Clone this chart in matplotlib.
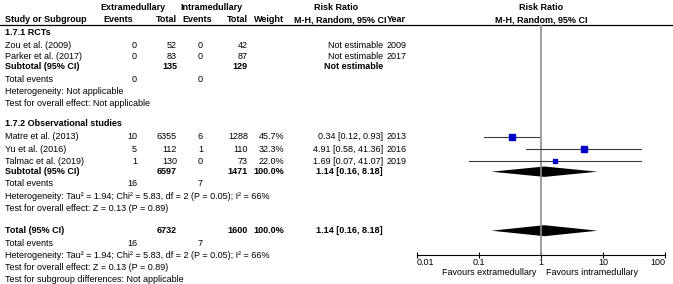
import matplotlib
matplotlib.use("Agg")
import matplotlib.pyplot as plt
from matplotlib.ticker import FixedLocator, NullLocator

plt.rcParams['font.family'] = ['Liberation Sans', 'DejaVu Sans']
FS = 6.5

# --- donnees ---
rct_names = ["Zou et al. (2009)", "Parker et al. (2017)"]
rct_ev_e = [0, 0]
rct_tot_e = [52, 83]
rct_ev_i = [0, 0]
rct_tot_i = [42, 87]
rct_year = [2009, 2017]

obs_names = ["Matre et al. (2013)", "Yu et al. (2016)", "Talmac et al. (2019)"]
obs_ev_e = [10, 5, 1]
obs_tot_e = [6355, 112, 130]
obs_ev_i = [6, 1, 0]
obs_tot_i = [1288, 110, 73]
obs_weight = [45.7, 32.3, 22.0]
obs_rr = [0.34, 4.91, 1.69]
obs_lo = [0.12, 0.58, 0.07]
obs_hi = [0.93, 41.36, 41.07]
obs_year = [2013, 2016, 2019]

sub_rr, sub_lo, sub_hi = 1.14, 0.16, 8.18
tot_rr, tot_lo, tot_hi = 1.14, 0.16, 8.18
xticks = [0.01, 0.1, 1, 10, 100]
xtick_labels = ["0.01", "0.1", "1", "10", "100"]

W, H = 673, 284
fig = plt.figure(figsize=(W / 100, H / 100), dpi=100)

# axe texte en coordonnees pixels
at = fig.add_axes([0, 0, 1, 1])
at.set_xlim(0, W)
at.set_ylim(H, 0)
at.axis('off')

# axe du forest plot (echelle log)
x0, x1 = 416.7, 665.0
ax = fig.add_axes([x0 / W, 0, (x1 - x0) / W, 1])
ax.set_xscale('log')
ax.set_xlim(0.01, 100)
ax.set_ylim(H, 0)
ax.patch.set_alpha(0)
for s in ['left', 'right', 'top']:
    ax.spines[s].set_visible(False)
ax.spines['bottom'].set_position(('data', 255))
ax.spines['bottom'].set_linewidth(0.8)
ax.yaxis.set_visible(False)
ax.xaxis.set_major_locator(FixedLocator(xticks))
ax.xaxis.set_minor_locator(NullLocator())
ax.set_xticklabels(xtick_labels, fontsize=FS)
ax.tick_params(axis='x', direction='inout', length=5, width=0.8, pad=0)
labs = ax.get_xticklabels()
labs[0].set_ha('left')
labs[-1].set_ha('right')

# colonnes
cx_name = 5
cx_ev_e, cx_tot_e = 137, 177
cx_ev_i, cx_tot_i = 203, 248
cx_w, cx_rr, cx_year = 284, 383, 387


def txt(x, y, s, ha='left', bold=False):
    at.text(x, y, s, ha=ha, va='center', fontsize=FS,
            fontweight='bold' if bold else 'normal')


# --- en-tetes ---
txt(133, 7, "Extramedullary", ha='center', bold=True)
txt(211, 7, "Intramedullary", ha='center', bold=True)
txt(336, 7, "Risk Ratio", ha='center', bold=True)
txt(541, 7, "Risk Ratio", ha='center', bold=True)
y = 19.5
txt(cx_name, y, "Study or Subgroup", bold=True)
txt(118, y, "Events", ha='center', bold=True)
txt(cx_tot_e, y, "Total", ha='right', bold=True)
txt(197, y, "Events", ha='center', bold=True)
txt(cx_tot_i, y, "Total", ha='right', bold=True)
txt(cx_w, y, "Weight", ha='right', bold=True)
txt(340, y, "M-H, Random, 95% CI", ha='center', bold=True)
txt(cx_year, y, "Year", bold=True)
txt(541, y, "M-H, Random, 95% CI", ha='center', bold=True)
at.plot([0, W], [24.5, 24.5], color='black', lw=0.9)

ax.vlines(1, 24.5, 256, color='#8c8c8c', lw=1.2)

# --- 1.7.1 RCTs ---
txt(cx_name, 32.5, "1.7.1 RCTs", bold=True)
rows_rct = [45, 56.5]
for i, yy in enumerate(rows_rct):
    txt(cx_name, yy, rct_names[i])
    txt(cx_ev_e, yy, str(rct_ev_e[i]), ha='right')
    txt(cx_tot_e, yy, str(rct_tot_e[i]), ha='right')
    txt(cx_ev_i, yy, str(rct_ev_i[i]), ha='right')
    txt(cx_tot_i, yy, str(rct_tot_i[i]), ha='right')
    txt(cx_rr, yy, "Not estimable", ha='right')
    txt(cx_year, yy, str(rct_year[i]))
yy = 66.7
txt(cx_name, yy, "Subtotal (95% CI)", bold=True)
txt(cx_tot_e, yy, str(sum(rct_tot_e)), ha='right', bold=True)
txt(cx_tot_i, yy, str(sum(rct_tot_i)), ha='right', bold=True)
txt(cx_rr, yy, "Not estimable", ha='right', bold=True)
txt(cx_name, 79.5, "Total events")
txt(cx_ev_e, 79.5, str(sum(rct_ev_e)), ha='right')
txt(cx_ev_i, 79.5, str(sum(rct_ev_i)), ha='right')
txt(cx_name, 91.5, "Heterogeneity: Not applicable")
txt(cx_name, 103.5, "Test for overall effect: Not applicable")

# --- 1.7.2 Observational studies ---
txt(cx_name, 123.5, "1.7.2 Observational studies", bold=True)
rows_obs = [136.7, 149, 161]
for i, yy in enumerate(rows_obs):
    txt(cx_name, yy, obs_names[i])
    txt(cx_ev_e, yy, str(obs_ev_e[i]), ha='right')
    txt(cx_tot_e, yy, str(obs_tot_e[i]), ha='right')
    txt(cx_ev_i, yy, str(obs_ev_i[i]), ha='right')
    txt(cx_tot_i, yy, str(obs_tot_i[i]), ha='right')
    txt(cx_w, yy, f"{obs_weight[i]:.1f}%", ha='right')
    txt(cx_rr, yy, f"{obs_rr[i]:.2f} [{obs_lo[i]:.2f}, {obs_hi[i]:.2f}]", ha='right')
    txt(cx_year, yy, str(obs_year[i]))
    ax.plot([obs_lo[i], obs_hi[i]], [yy, yy], color='#3a3a3a', lw=0.8)
    side = (1.2 + 0.12 * obs_weight[i]) * 0.72
    ax.plot(obs_rr[i], yy, marker='s', ms=side, color='#0000c8', mec='#0000c8')

yy = 171.7
txt(cx_name, yy, "Subtotal (95% CI)", bold=True)
txt(cx_tot_e, yy, str(sum(obs_tot_e)), ha='right', bold=True)
txt(cx_tot_i, yy, str(sum(obs_tot_i)), ha='right', bold=True)
txt(cx_w, yy, "100.0%", ha='right', bold=True)
txt(cx_rr, yy, f"{sub_rr:.2f} [{sub_lo:.2f}, {sub_hi:.2f}]", ha='right', bold=True)
ax.fill([sub_lo, sub_rr, sub_hi, sub_rr], [yy, yy - 5.2, yy, yy + 5.2], color='black', lw=0)
txt(cx_name, 184, "Total events")
txt(cx_ev_e, 184, str(sum(obs_ev_e)), ha='right')
txt(cx_ev_i, 184, str(sum(obs_ev_i)), ha='right')
het = "Heterogeneity: Tau² = 1.94; Chi² = 5.83, df = 2 (P = 0.05); I² = 66%"
eff = "Test for overall effect: Z = 0.13 (P = 0.89)"
txt(cx_name, 196.5, het)
txt(cx_name, 208.5, eff)

# --- Total ---
yy = 230.7
txt(cx_name, yy, "Total (95% CI)", bold=True)
txt(cx_tot_e, yy, str(sum(rct_tot_e) + sum(obs_tot_e)), ha='right', bold=True)
txt(cx_tot_i, yy, str(sum(rct_tot_i) + sum(obs_tot_i)), ha='right', bold=True)
txt(cx_w, yy, "100.0%", ha='right', bold=True)
txt(cx_rr, yy, f"{tot_rr:.2f} [{tot_lo:.2f}, {tot_hi:.2f}]", ha='right', bold=True)
ax.fill([tot_lo, tot_rr, tot_hi, tot_rr], [yy, yy - 5.5, yy, yy + 5.5], color='black', lw=0)
txt(cx_name, 243, "Total events")
txt(cx_ev_e, 243, str(sum(rct_ev_e) + sum(obs_ev_e)), ha='right')
txt(cx_ev_i, 243, str(sum(rct_ev_i) + sum(obs_ev_i)), ha='right')
txt(cx_name, 255, het)
txt(cx_name, 267, eff)
txt(cx_name, 279, "Test for subgroup differences: Not applicable")

# favours
txt(536, 272.5, "Favours extramedullary", ha='right')
txt(546, 272.5, "Favours intramedullary", ha='left')

fig.savefig("out.png", dpi=100)
